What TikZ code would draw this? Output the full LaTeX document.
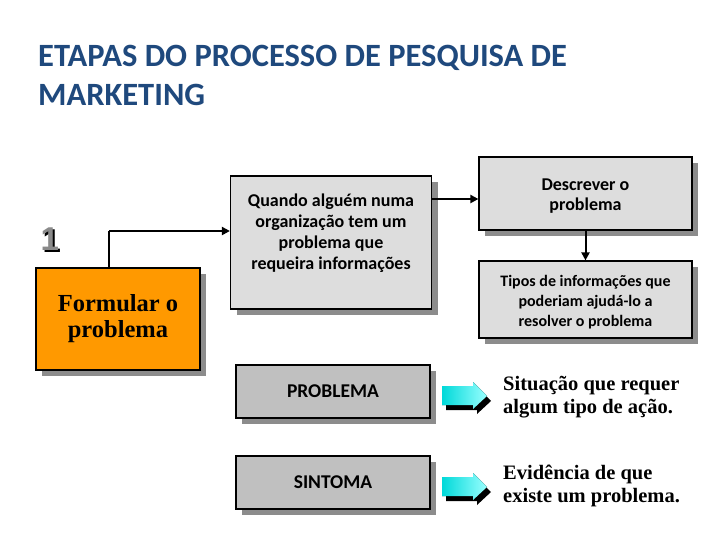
\documentclass[tikz,border=0pt]{standalone}
\usepackage{fontspec}
\setmainfont{Liberation Serif}
\newfontfamily\calfont{Carlito}
\newfontfamily\arialfont{Liberation Sans}
\usetikzlibrary{shadows,arrows.meta}
\definecolor{titleblue}{HTML}{1F497D}
\definecolor{orangebox}{HTML}{FF9900}
\definecolor{lightbox}{HTML}{DDDDDD}
\definecolor{darkbox}{HTML}{C0C0C0}
\definecolor{shadowgray}{HTML}{8C8C8C}
\definecolor{numgray}{HTML}{8A8A8A}
\tikzset{
  box/.style={draw=black, line width=1.2pt, align=center, inner sep=2pt,
    drop shadow={shadow xshift=6pt, shadow yshift=-6pt, fill=shadowgray, opacity=1}},
  lbox/.style={box, fill=lightbox},
  boxtext/.style={align=center, inner sep=0pt},
  dbox/.style={box, fill=darkbox, font=\calfont\bfseries\fontsize{19.5}{22}\selectfont},
  arr/.style={line width=2pt, -{Triangle[length=8pt,width=8pt]}},
  desc/.style={anchor=west, align=left, inner sep=0pt, font=\bfseries\fontsize{20.5}{23}\selectfont},
  cyanarrow/.style={left color=cyan!70!teal, right color=cyan!40!white, draw=none}
}
\begin{document}
\begin{tikzpicture}[x=1pt,y=-1pt]
\useasboundingbox[fill=white] (0,0) rectangle (728,546);

% title
\node[anchor=north west, align=left, inner sep=0pt, text=titleblue,
  font=\calfont\bfseries\fontsize{32.5}{39}\selectfont] (title) at (38,44.5)
  {ETAPAS DO PROCESSO DE PESQUISA DE\\MARKETING};

% step number (gray digit with dark drop shadow)
\node[anchor=north west, inner sep=0pt, font=\arialfont\bfseries\fontsize{33}{34}\selectfont]
  (num) at (40.5,228) {\rlap{\kern2pt\raisebox{-2pt}{\color{black}1}}\textcolor{numgray}{1}};

% boxes
\node[box, fill=orangebox, minimum width=164pt, minimum height=102pt,
  font=\bfseries\fontsize{24.5}{26}\selectfont] (form) at (118,319) {Formular o\\problema};

\node[lbox, minimum width=201pt, minimum height=133pt] (quando) at (331,242.5) {};
\node[boxtext, font=\calfont\bfseries\fontsize{18}{21}\selectfont]
  (quandotxt) at ([yshift=9.5pt]quando.center)
  {Quando alguém numa\\organização tem um\\problema que\\requeira informações};

\node[lbox, minimum width=213pt, minimum height=73pt] (descr) at (585.5,193.5) {};
\node[boxtext, font=\calfont\bfseries\fontsize{18}{20}\selectfont]
  (descrtxt) at ([yshift=-3pt]descr.center) {Descrever o\\problema};

\node[lbox, minimum width=213pt, minimum height=77pt] (tipos) at (585.5,299.5) {};
\node[boxtext, font=\calfont\bfseries\fontsize{16}{20}\selectfont]
  (tipostxt) at ([yshift=-3pt]tipos.center)
  {Tipos de informações que\\poderiam ajudá-lo a\\resolver o problema};

\node[dbox, minimum width=194pt, minimum height=53pt] (prob) at (333,391.5) {PROBLEMA};
\node[dbox, minimum width=194pt, minimum height=53pt] (sint) at (333,482.5) {SINTOMA};

% connectors
\coordinate (c1) at (109,231);
\coordinate (c2) at (440,199);
\draw[line width=2pt] (form.north -| c1) -- (c1);
\draw[arr] (c1) -- (quando.west |- c1);
\draw[arr] (quando.east |- c2) -- (descr.west |- c2);
\draw[arr] (descr.south) -- (tipos.north);

% cyan block arrows
\foreach \dy/\nm in {0/a1,91/a2}{
  \begin{scope}[yshift=-\dy pt]
    \fill[black] (446,391) -- (477,391) -- (477,387) -- (491,401) -- (477,414) -- (477,410) -- (446,410) -- cycle;
    \fill[cyanarrow] (442,386) -- (473,386) -- (473,382) -- (487,396) -- (473,409) -- (473,405) -- (442,405) -- cycle;
    \coordinate (\nm) at (487,396);
  \end{scope}
}

% descriptions
\node[desc] (t1) at (503,397) {Situação que requer\\algum tipo de ação.};
\node[desc] (t2) at (503,486) {Evidência de que\\existe um problema.};
\end{tikzpicture}
\end{document}
